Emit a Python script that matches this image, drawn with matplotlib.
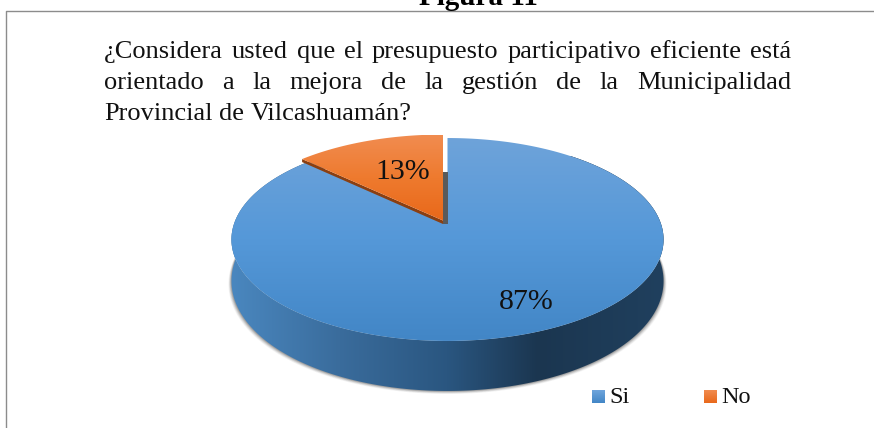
import numpy as np
import matplotlib
matplotlib.use("Agg")
import matplotlib.pyplot as plt
from matplotlib.colors import LinearSegmentedColormap
from matplotlib.patches import Polygon

title = "Figura 11"
question = [
    "¿Considera usted que el presupuesto participativo eficiente está",
    "orientado a la mejora de la gestión de la Municipalidad",
    "Provincial de Vilcashuamán?",
]
categories = ["Si", "No"]
shares = [87, 13]
share_labels = ["87%", "13%"]

SERIF = "Liberation Serif"
W, H = 874, 428

fig = plt.figure(figsize=(W / 100, H / 100), dpi=100)
ax = fig.add_axes([0, 0, 1, 1])

# pie geometry in picture pixels, y runs down
hub_x, hub_y = 447.5, 224
radius_x, radius_y, tilt = 213.5, 99.1, 0.1527


def rim(angle):
    # angle in degrees clockwise from the top, with a bit of perspective
    a = np.radians(angle)
    w = 1 + tilt * np.cos(a)
    return hub_x + radius_x * np.sin(a) / w, hub_y - radius_y * np.cos(a) / w


def wedge_outline(a0, a1, dx=0, dy=0):
    xs, ys = rim(np.linspace(a0, a1, 240))
    pts = np.column_stack([np.r_[hub_x, xs, hub_x], np.r_[hub_y, ys, hub_y]])
    return pts + [dx, dy]


def gradient_fill(poly_pts, colors, horizontal=False, zorder=2):
    cmap = LinearSegmentedColormap.from_list("g", colors)
    x0, y0 = poly_pts.min(axis=0)
    x1, y1 = poly_pts.max(axis=0)
    ramp = np.linspace(0, 1, 256)
    ramp = ramp[None, :] if horizontal else ramp[:, None]
    im = ax.imshow(ramp, cmap=cmap, extent=(x0, x1, y1, y0), origin="upper",
                   aspect="auto", zorder=zorder, vmin=0, vmax=1)
    patch = Polygon(poly_pts, closed=True, transform=ax.transData,
                    fc="none", ec="none")
    ax.add_patch(patch)
    im.set_clip_path(patch)


blue_sweep = 360 * shares[0] / sum(shares)

# side wall of the disc, the wall is a bit shallower at the far ends
front = np.linspace(40, 320, 500)
fx, fy = rim(front)
top_edge = np.column_stack([fx, fy])
wall = 40 - 10 * np.cos(np.radians(front))
low_edge = top_edge + np.column_stack([np.zeros_like(wall), wall])
side = np.vstack([top_edge, low_edge[::-1]])

# soft shadow under the disc
for grow, alpha in zip([5, 4, 3, 2, 1], [0.06, 0.08, 0.11, 0.14, 0.18]):
    cx = low_edge[:, 0].mean()
    shadow = low_edge.copy()
    shadow[:, 0] = cx + (shadow[:, 0] - cx) * (1 + grow * 0.6 / 216)
    shadow[:, 1] += grow * 0.6
    ax.add_patch(Polygon(np.vstack([top_edge, shadow[::-1]]), closed=True,
                         fc="#303030", ec="none", alpha=alpha, zorder=1))

gradient_fill(side, [(0, "#4a87bf"), (0.25, "#3a6c9c"), (0.5, "#2a5680"),
                     (0.71, "#1b3650"), (1, "#20405e")],
              horizontal=True, zorder=2)

# blue slice
gradient_fill(wedge_outline(0, blue_sweep), ["#6ea3da", "#5598d8", "#4286c6"], zorder=3)

# dark cut faces in the notch
notch = np.array([[443, 172], [447.5, 172], [447.5, 224], [443, 224]])
ax.add_patch(Polygon(notch, closed=True, fc="#5a5a5a", ec="none", zorder=4))

# orange slice lifted out of the disc
orange = wedge_outline(blue_sweep, 360, dx=-4.5, dy=-3.5)
edge = np.array([orange[0], orange[1], orange[1] + [0, 3], orange[0] + [0, 3.5]])
ax.add_patch(Polygon(edge, closed=True, fc="#8a3f12", ec="none", zorder=5))
gradient_fill(orange, ["#f18c50", "#ee7a2e", "#e9681a"], zorder=6)

# frame around the chart
ax.plot([6, 6, W], [H, 10.5, 10.5], color="#8c8c8c", lw=1, zorder=7)

# value labels
ax.text(526, 309, share_labels[0], family=SERIF, fontsize=21.5, ha="center",
        va="baseline", color="#111111", zorder=8)
ax.text(403, 179, share_labels[1], family=SERIF, fontsize=21.5, ha="center",
        va="baseline", color="#111111", zorder=8)

ax.text(478, 5, title, family=SERIF, fontsize=21, fontweight="bold",
        ha="center", va="baseline", color="black", zorder=8)

# legend
for x_box, name, colors in zip([592, 704], categories,
                               [["#6fa5dc", "#4286c6"], ["#f18c50", "#e9681a"]]):
    gradient_fill(np.array([[x_box, 390], [x_box + 13, 390], [x_box + 13, 403], [x_box, 403]]),
                  colors, zorder=8)
    ax.text(x_box + 17.5, 403, name, family=SERIF, fontsize=17.5, ha="left",
            va="baseline", color="#111111", zorder=8)

ax.set_xlim(0, W)
ax.set_ylim(H, 0)
ax.axis("off")

# justified question text: words spread between the two margins
renderer = fig.canvas.get_renderer()
left, right = 104, 791
q_size = 19
for line, base, justify in zip(question, [58, 89, 120], [True, True, False]):
    words = line.split(" ")
    items = [ax.text(0, base, w, family=SERIF, fontsize=q_size, ha="left",
                     va="baseline", color="#111111", zorder=8) for w in words]
    widths = [t.get_window_extent(renderer).width for t in items]
    if justify:
        gap = (right - left - sum(widths)) / (len(words) - 1)
    else:
        gap = q_size * 100 / 72 * 0.25
    x = left
    for t, w in zip(items, widths):
        t.set_x(x)
        x += w + gap

fig.savefig("out.png", dpi=100, facecolor="white")
